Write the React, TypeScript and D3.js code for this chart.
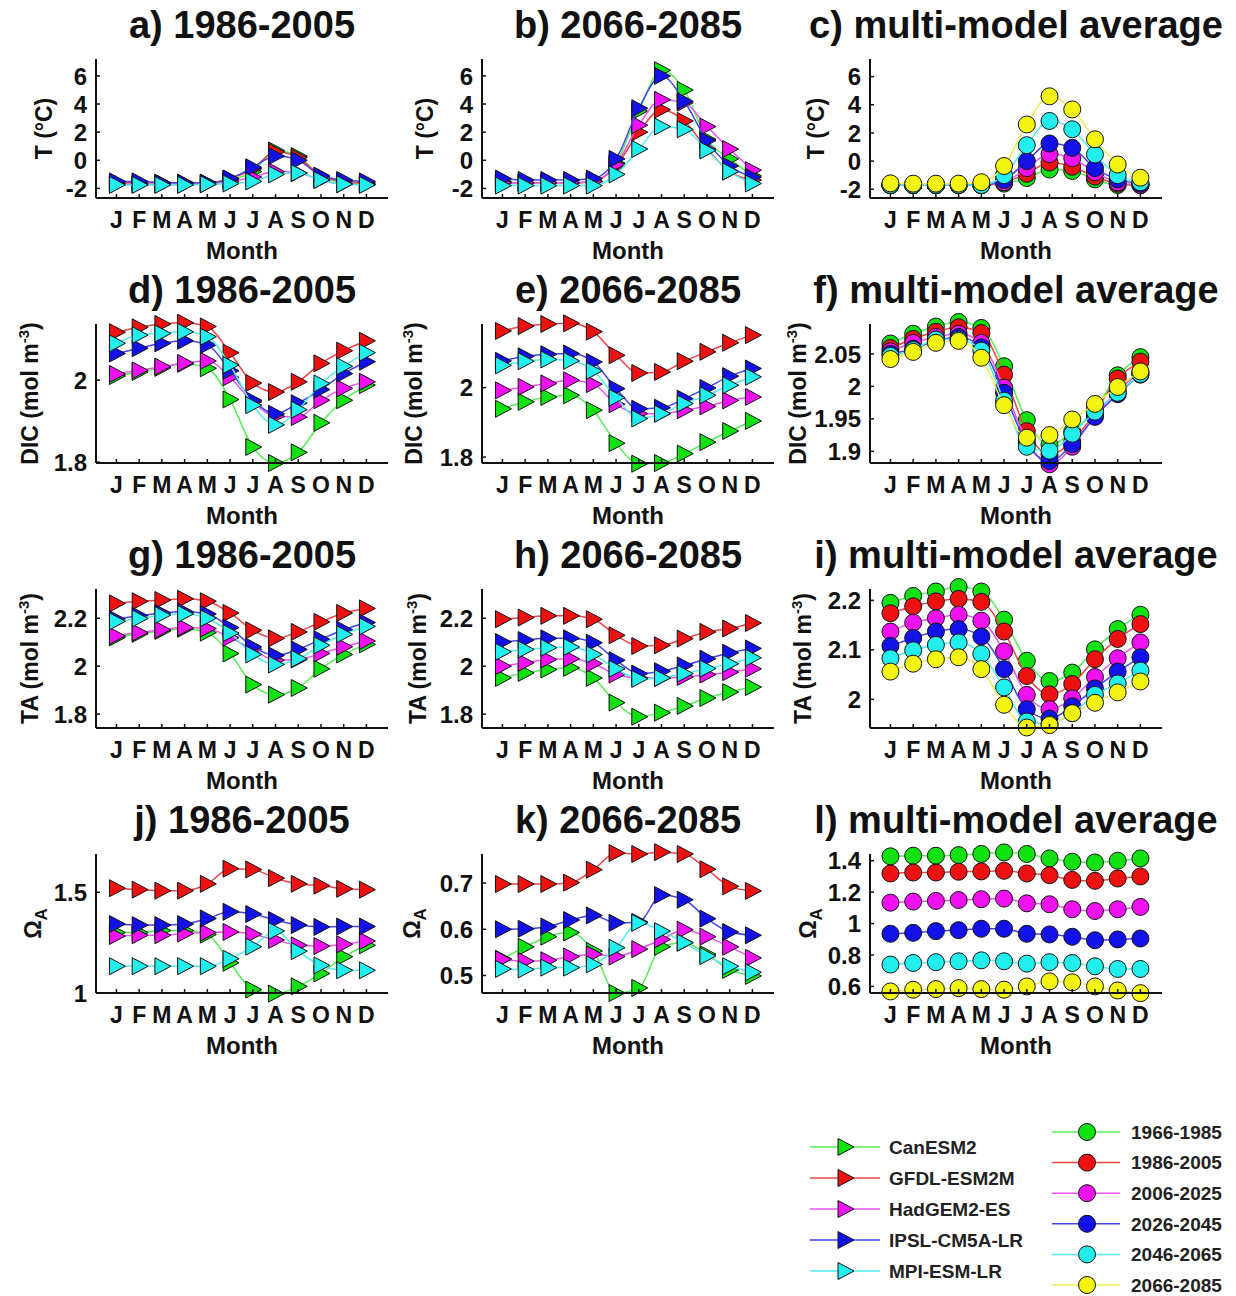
import React from "react";
import * as d3 from "d3";

const W = 1236;
const H = 1296;
const FONT = "'Liberation Sans', Arial, Helvetica, sans-serif";

const MONTHS = ["J", "F", "M", "A", "M", "J", "J", "A", "S", "O", "N", "D"];
const MODELS = ["CanESM2", "GFDL-ESM2M", "HadGEM2-ES", "IPSL-CM5A-LR", "MPI-ESM-LR"];
const PERIODS = ["1966-1985", "1986-2005", "2006-2025", "2026-2045", "2046-2065", "2066-2085"];

// ---- Temperature (°C) ----
const tHistCan = [-1.7, -1.7, -1.7, -1.7, -1.6, -1.4, -0.8, 0.7, 0.3, -1.2, -1.6, -1.7];
const tHistGfdl = [-1.6, -1.6, -1.6, -1.6, -1.6, -1.3, -0.6, 0.6, 0.2, -1.1, -1.5, -1.6];
const tHistHad = [-1.7, -1.7, -1.7, -1.7, -1.7, -1.5, -1.2, -0.8, -0.9, -1.4, -1.7, -1.7];
const tHistIpsl = [-1.5, -1.5, -1.6, -1.6, -1.6, -1.3, -0.5, 0.3, 0.0, -1.1, -1.4, -1.5];
const tHistMpi = [-1.75, -1.75, -1.75, -1.75, -1.7, -1.65, -1.5, -1.0, -0.9, -1.4, -1.7, -1.75];

const tFutCan = [-1.5, -1.6, -1.6, -1.6, -1.5, -0.2, 3.5, 6.4, 5.0, 1.5, 0.1, -1.1];
const tFutGfdl = [-1.6, -1.6, -1.6, -1.6, -1.5, -0.4, 2.0, 3.6, 2.8, 0.8, -0.8, -1.4];
const tFutHad = [-1.6, -1.6, -1.6, -1.6, -1.5, -0.3, 2.5, 4.3, 4.1, 2.4, 0.8, -0.7];
const tFutIpsl = [-1.3, -1.4, -1.4, -1.4, -1.3, 0.1, 3.7, 6.0, 4.2, 1.4, -0.4, -1.2];
const tFutMpi = [-1.8, -1.8, -1.8, -1.8, -1.8, -1.0, 0.8, 2.4, 2.2, 0.7, -0.8, -1.65];

const tAvg1966 = [-1.7, -1.7, -1.7, -1.7, -1.7, -1.6, -1.2, -0.6, -0.7, -1.3, -1.7, -1.7];
const tAvg1986 = [-1.7, -1.7, -1.7, -1.7, -1.7, -1.5, -0.9, -0.1, -0.4, -1.1, -1.6, -1.7];
const tAvg2006 = [-1.7, -1.7, -1.7, -1.7, -1.7, -1.5, -0.5, 0.5, 0.2, -0.8, -1.5, -1.7];
const tAvg2026 = [-1.7, -1.7, -1.7, -1.7, -1.7, -1.34, 0.0, 1.25, 0.94, -0.5, -1.3, -1.6];
const tAvg2046 = [-1.7, -1.7, -1.7, -1.7, -1.7, -1.0, 1.13, 2.85, 2.26, 0.47, -1.0, -1.5];
const tAvg2066 = [-1.58, -1.6, -1.6, -1.6, -1.5, -0.35, 2.6, 4.6, 3.67, 1.55, -0.24, -1.18];

// ---- DIC (mol m-3) ----
const dicHistCan = [2.01, 2.02, 2.03, 2.04, 2.029, 1.953, 1.837, 1.798, 1.824, 1.896, 1.951, 1.988];
const dicHistGfdl = [2.117, 2.129, 2.137, 2.14, 2.131, 2.067, 1.993, 1.971, 1.996, 2.041, 2.072, 2.096];
const dicHistHad = [2.015, 2.024, 2.033, 2.042, 2.047, 2.007, 1.947, 1.912, 1.91, 1.951, 1.98, 1.996];
const dicHistIpsl = [2.065, 2.078, 2.09, 2.096, 2.086, 2.023, 1.951, 1.918, 1.944, 1.977, 2.016, 2.045];
const dicHistMpi = [2.09, 2.11, 2.114, 2.118, 2.106, 2.037, 1.939, 1.891, 1.928, 1.992, 2.034, 2.067];

const dicFutCan = [1.939, 1.959, 1.973, 1.978, 1.935, 1.84, 1.781, 1.783, 1.81, 1.843, 1.875, 1.904];
const dicFutGfdl = [2.163, 2.177, 2.183, 2.185, 2.161, 2.093, 2.042, 2.045, 2.076, 2.103, 2.129, 2.151];
const dicFutHad = [1.992, 2.002, 2.012, 2.021, 2.01, 1.952, 1.925, 1.925, 1.935, 1.946, 1.963, 1.973];
const dicFutIpsl = [2.077, 2.09, 2.096, 2.098, 2.074, 1.997, 1.939, 1.942, 1.968, 1.999, 2.033, 2.055];
const dicFutMpi = [2.064, 2.076, 2.081, 2.077, 2.048, 1.971, 1.911, 1.925, 1.954, 1.978, 2.007, 2.031];

const dicAvg1966 = [2.066, 2.081, 2.092, 2.099, 2.09, 2.031, 1.948, 1.91, 1.93, 1.965, 2.017, 2.045];
const dicAvg1986 = [2.059, 2.073, 2.084, 2.091, 2.082, 2.018, 1.931, 1.895, 1.915, 1.96, 2.012, 2.038];
const dicAvg2006 = [2.054, 2.067, 2.076, 2.081, 2.067, 1.998, 1.917, 1.88, 1.907, 1.955, 1.993, 2.022];
const dicAvg2026 = [2.05, 2.058, 2.07, 2.076, 2.06, 1.99, 1.912, 1.885, 1.911, 1.953, 1.988, 2.018];
const dicAvg2046 = [2.047, 2.056, 2.072, 2.072, 2.055, 1.978, 1.907, 1.901, 1.927, 1.961, 1.99, 2.019];
const dicAvg2066 = [2.042, 2.053, 2.067, 2.07, 2.044, 1.971, 1.921, 1.925, 1.949, 1.973, 1.999, 2.023];

// ---- TA (mol m-3) ----
const taHistCan = [2.12, 2.135, 2.147, 2.156, 2.14, 2.053, 1.923, 1.881, 1.909, 1.989, 2.049, 2.091];
const taHistGfdl = [2.262, 2.271, 2.276, 2.281, 2.271, 2.222, 2.15, 2.116, 2.143, 2.185, 2.222, 2.241];
const taHistHad = [2.126, 2.14, 2.152, 2.161, 2.157, 2.119, 2.07, 2.025, 2.028, 2.053, 2.081, 2.105];
const taHistIpsl = [2.196, 2.21, 2.222, 2.227, 2.218, 2.161, 2.081, 2.045, 2.07, 2.112, 2.152, 2.182];
const taHistMpi = [2.187, 2.199, 2.213, 2.218, 2.2, 2.138, 2.049, 2.007, 2.031, 2.087, 2.133, 2.166];

const taFutCan = [1.951, 1.972, 1.986, 1.993, 1.951, 1.848, 1.789, 1.806, 1.834, 1.867, 1.892, 1.913];
const taFutGfdl = [2.196, 2.203, 2.21, 2.21, 2.196, 2.129, 2.084, 2.087, 2.115, 2.143, 2.157, 2.18];
const taFutHad = [2.0, 2.014, 2.028, 2.031, 2.011, 1.965, 1.951, 1.951, 1.955, 1.965, 1.975, 1.989];
const taFutIpsl = [2.101, 2.109, 2.116, 2.116, 2.098, 2.025, 1.969, 1.979, 2.003, 2.031, 2.056, 2.074];
const taFutMpi = [2.06, 2.07, 2.077, 2.08, 2.049, 1.989, 1.947, 1.951, 1.969, 1.99, 2.01, 2.035];

const taAvg1966 = [2.195, 2.209, 2.218, 2.227, 2.218, 2.161, 2.078, 2.037, 2.054, 2.101, 2.142, 2.171];
const taAvg1986 = [2.174, 2.188, 2.198, 2.203, 2.197, 2.137, 2.047, 2.01, 2.031, 2.081, 2.122, 2.152];
const taAvg2006 = [2.137, 2.155, 2.164, 2.171, 2.159, 2.097, 2.009, 1.98, 2.002, 2.045, 2.083, 2.115];
const taAvg2026 = [2.108, 2.124, 2.137, 2.142, 2.127, 2.061, 1.98, 1.961, 1.986, 2.022, 2.056, 2.085];
const taAvg2046 = [2.083, 2.099, 2.11, 2.115, 2.092, 2.024, 1.955, 1.95, 1.972, 2.009, 2.032, 2.058];
const taAvg2066 = [2.056, 2.072, 2.081, 2.085, 2.061, 1.989, 1.943, 1.948, 1.972, 1.993, 2.014, 2.036];

// ---- Omega aragonite ----
const omHistCan = [1.3, 1.3, 1.31, 1.31, 1.29, 1.15, 1.017, 0.997, 1.033, 1.097, 1.18, 1.237];
const omHistGfdl = [1.52, 1.513, 1.508, 1.508, 1.542, 1.617, 1.613, 1.57, 1.542, 1.533, 1.517, 1.513];
const omHistHad = [1.283, 1.287, 1.287, 1.295, 1.3, 1.303, 1.292, 1.263, 1.237, 1.233, 1.242, 1.258];
const omHistIpsl = [1.342, 1.337, 1.337, 1.342, 1.37, 1.403, 1.392, 1.362, 1.337, 1.328, 1.33, 1.33];
const omHistMpi = [1.133, 1.133, 1.133, 1.133, 1.133, 1.17, 1.23, 1.308, 1.208, 1.137, 1.113, 1.113];

const omFutCan = [0.536, 0.562, 0.584, 0.593, 0.553, 0.462, 0.473, 0.562, 0.571, 0.546, 0.512, 0.499];
const omFutGfdl = [0.698, 0.698, 0.698, 0.701, 0.729, 0.765, 0.763, 0.767, 0.763, 0.73, 0.693, 0.683];
const omFutHad = [0.535, 0.531, 0.533, 0.541, 0.546, 0.541, 0.557, 0.578, 0.599, 0.584, 0.562, 0.538];
const omFutIpsl = [0.6, 0.601, 0.606, 0.62, 0.63, 0.614, 0.616, 0.674, 0.664, 0.623, 0.594, 0.587];
const omFutMpi = [0.514, 0.513, 0.517, 0.517, 0.524, 0.56, 0.614, 0.596, 0.571, 0.542, 0.52, 0.507];

const omAvg1966 = [1.428, 1.432, 1.432, 1.436, 1.443, 1.453, 1.443, 1.415, 1.394, 1.389, 1.4, 1.415];
const omAvg1986 = [1.319, 1.325, 1.325, 1.33, 1.332, 1.336, 1.319, 1.308, 1.278, 1.272, 1.287, 1.3];
const omAvg2006 = [1.133, 1.14, 1.144, 1.15, 1.155, 1.159, 1.129, 1.123, 1.091, 1.08, 1.091, 1.106];
const omAvg2026 = [0.935, 0.941, 0.952, 0.958, 0.967, 0.967, 0.935, 0.931, 0.916, 0.894, 0.899, 0.905];
const omAvg2046 = [0.739, 0.749, 0.754, 0.76, 0.766, 0.76, 0.745, 0.754, 0.749, 0.728, 0.711, 0.711];
const omAvg2066 = [0.568, 0.579, 0.583, 0.589, 0.583, 0.579, 0.6, 0.632, 0.626, 0.6, 0.574, 0.557];

// ---- styling ----
const MARKER_FILL = ["#11e011", "#ee1111", "#f011f0", "#1111e8", "#22eeee", "#f4f411"];
const LINE_COL = ["#55ee55", "#ee4444", "#ee55ee", "#4444ee", "#55eeee", "#eeee55"];

const COL_LEFT = [96, 482, 870];
const ROW_BOTTOM = [198, 463, 728, 993];
const AX_W = 292;
const AX_H = 139;

type Panel = {
  title: string;
  row: number;
  col: number;
  ylab: "T" | "DIC" | "TA" | "OM";
  domain: [number, number];
  ticks: number[];
  series: number[][];
  marker: "tri" | "circ";
  labX: number;
};

const PANELS: Panel[] = [
  { title: "a) 1986-2005", row: 0, col: 0, ylab: "T", domain: [-2.68, 7.2], ticks: [-2, 0, 2, 4, 6], series: [tHistCan, tHistGfdl, tHistHad, tHistIpsl, tHistMpi], marker: "tri", labX: 44 },
  { title: "b) 2066-2085", row: 0, col: 1, ylab: "T", domain: [-2.68, 7.2], ticks: [-2, 0, 2, 4, 6], series: [tFutCan, tFutGfdl, tFutHad, tFutIpsl, tFutMpi], marker: "tri", labX: 425 },
  { title: "c) multi-model average", row: 0, col: 2, ylab: "T", domain: [-2.62, 7.25], ticks: [-2, 0, 2, 4, 6], series: [tAvg1966, tAvg1986, tAvg2006, tAvg2026, tAvg2046, tAvg2066], marker: "circ", labX: 816 },
  { title: "d) 1986-2005", row: 1, col: 0, ylab: "DIC", domain: [1.798, 2.137], ticks: [1.8, 2], series: [dicHistCan, dicHistGfdl, dicHistHad, dicHistIpsl, dicHistMpi], marker: "tri", labX: 30 },
  { title: "e) 2066-2085", row: 1, col: 1, ylab: "DIC", domain: [1.783, 2.183], ticks: [1.8, 2], series: [dicFutCan, dicFutGfdl, dicFutHad, dicFutIpsl, dicFutMpi], marker: "tri", labX: 414 },
  { title: "f) multi-model average", row: 1, col: 2, ylab: "DIC", domain: [1.882, 2.096], ticks: [1.9, 1.95, 2, 2.05], series: [dicAvg1966, dicAvg1986, dicAvg2006, dicAvg2026, dicAvg2046, dicAvg2066], marker: "circ", labX: 798 },
  { title: "g) 1986-2005", row: 2, col: 0, ylab: "TA", domain: [1.742, 2.322], ticks: [1.8, 2, 2.2], series: [taHistCan, taHistGfdl, taHistHad, taHistIpsl, taHistMpi], marker: "tri", labX: 30 },
  { title: "h) 2066-2085", row: 2, col: 1, ylab: "TA", domain: [1.742, 2.322], ticks: [1.8, 2, 2.2], series: [taFutCan, taFutGfdl, taFutHad, taFutIpsl, taFutMpi], marker: "tri", labX: 418 },
  { title: "i) multi-model average", row: 2, col: 2, ylab: "TA", domain: [1.942, 2.223], ticks: [2, 2.1, 2.2], series: [taAvg1966, taAvg1986, taAvg2006, taAvg2026, taAvg2046, taAvg2066], marker: "circ", labX: 803 },
  { title: "j) 1986-2005", row: 3, col: 0, ylab: "OM", domain: [1.0, 1.69], ticks: [1, 1.5], series: [omHistCan, omHistGfdl, omHistHad, omHistIpsl, omHistMpi], marker: "tri", labX: 33 },
  { title: "k) 2066-2085", row: 3, col: 1, ylab: "OM", domain: [0.462, 0.763], ticks: [0.5, 0.6, 0.7], series: [omFutCan, omFutGfdl, omFutHad, omFutIpsl, omFutMpi], marker: "tri", labX: 412 },
  { title: "l) multi-model average", row: 3, col: 2, ylab: "OM", domain: [0.558, 1.443], ticks: [0.6, 0.8, 1, 1.2, 1.4], series: [omAvg1966, omAvg1986, omAvg2006, omAvg2026, omAvg2046, omAvg2066], marker: "circ", labX: 808 },
];

const TRI = "M-7,-8.5 L-7,8.5 L9,0 Z";

const x = d3.scaleLinear().domain([0.1, 12.95]).range([0, AX_W]);

function Marker({ kind, cx, cy, fill }: { kind: string; cx: number; cy: number; fill: string }) {
  if (kind === "tri") {
    return <path d={TRI} transform={`translate(${cx},${cy})`} fill={fill} stroke="#111" strokeWidth={1} strokeLinejoin="round" />;
  }
  return <circle cx={cx} cy={cy} r={8.5} fill={fill} stroke="#111" strokeWidth={1} />;
}

function YLabel({ kind, cx, cy }: { kind: string; cx: number; cy: number }) {
  const common = {
    transform: `translate(${cx + 8},${cy}) rotate(-90)`,
    textAnchor: "middle" as const,
    fontFamily: FONT,
    fontWeight: 700,
    fontSize: 23,
    fill: "#111",
  };
  if (kind === "T") return <text {...common}>T (°C)</text>;
  if (kind === "OM")
    return (
      <text {...common}>
        Ω<tspan dy={6} fontSize={17}>A</tspan>
      </text>
    );
  const name = kind === "DIC" ? "DIC" : "TA";
  return (
    <text {...common}>
      {name} (mol m<tspan dy={-9} fontSize={15}>-3</tspan>
      <tspan dy={9}>)</tspan>
    </text>
  );
}

function PanelView({ p }: { p: Panel }) {
  const left = COL_LEFT[p.col];
  const bottom = ROW_BOTTOM[p.row];
  const top = bottom - AX_H;
  const y = d3.scaleLinear().domain(p.domain).range([AX_H, 0]);
  const line = d3
    .line<number>()
    .x((_, i) => x(i + 1))
    .y((d) => y(d))
    .curve(d3.curveMonotoneX);
  return (
    <g>
      <text x={left + AX_W / 2} y={top - 21} textAnchor="middle" fontFamily={FONT} fontWeight={700} fontSize={38} fill="#111">
        {p.title}
      </text>
      <YLabel kind={p.ylab} cx={p.labX} cy={top + AX_H / 2} />
      <g transform={`translate(${left},${top})`}>
        {p.series.map((s, si) => (
          <g key={si}>
            <path d={line(s) || ""} fill="none" stroke={LINE_COL[si]} strokeWidth={1.5} />
            {s.map((v, i) => (
              <Marker key={i} kind={p.marker} cx={x(i + 1)} cy={y(v)} fill={MARKER_FILL[si]} />
            ))}
          </g>
        ))}
        <line x1={0} y1={0} x2={0} y2={AX_H} stroke="#111" strokeWidth={2} />
        <line x1={0} y1={AX_H} x2={AX_W} y2={AX_H} stroke="#111" strokeWidth={2} />
        {p.ticks.map((t) => (
          <g key={t}>
            <line x1={0} x2={4} y1={y(t)} y2={y(t)} stroke="#111" strokeWidth={1.5} />
            <text x={-9} y={y(t)} dy="0.36em" textAnchor="end" fontFamily={FONT} fontWeight={700} fontSize={24} fill="#111">
              {String(t)}
            </text>
          </g>
        ))}
        {MONTHS.map((m, i) => (
          <g key={i}>
            <line x1={x(i + 1)} x2={x(i + 1)} y1={AX_H} y2={AX_H - 4} stroke="#111" strokeWidth={1.5} />
            <text x={x(i + 1)} y={AX_H + 30} textAnchor="middle" fontFamily={FONT} fontWeight={700} fontSize={23} fill="#111">
              {m}
            </text>
          </g>
        ))}
        <text x={AX_W / 2} y={AX_H + 61} textAnchor="middle" fontFamily={FONT} fontWeight={700} fontSize={24} fill="#111">
          Month
        </text>
      </g>
    </g>
  );
}

function Legend() {
  const leftX0 = 810;
  const leftX1 = 880;
  const leftY0 = 1147;
  const leftStep = 31;
  const rightX0 = 1052;
  const rightX1 = 1120;
  const rightY0 = 1132;
  const rightStep = 30.6;
  return (
    <g>
      {MODELS.map((m, i) => {
        const yy = leftY0 + i * leftStep;
        return (
          <g key={m}>
            <line x1={leftX0} x2={leftX1} y1={yy} y2={yy} stroke={LINE_COL[i]} strokeWidth={1.5} />
            <Marker kind="tri" cx={(leftX0 + leftX1) / 2} cy={yy} fill={MARKER_FILL[i]} />
            <text x={889} y={yy} dy="0.36em" fontFamily={FONT} fontWeight={700} fontSize={19} fill="#222">
              {m}
            </text>
          </g>
        );
      })}
      {PERIODS.map((p, i) => {
        const yy = rightY0 + i * rightStep;
        return (
          <g key={p}>
            <line x1={rightX0} x2={rightX1} y1={yy} y2={yy} stroke={LINE_COL[i]} strokeWidth={1.5} />
            <Marker kind="circ" cx={1087} cy={yy} fill={MARKER_FILL[i]} />
            <text x={1131} y={yy} dy="0.36em" fontFamily={FONT} fontWeight={700} fontSize={19} fill="#222">
              {p}
            </text>
          </g>
        );
      })}
    </g>
  );
}

export default function App() {
  return (
    <svg
      width={W}
      height={H}
      viewBox={`0 0 ${W} ${H}`}
      style={{ position: "absolute", left: 0, top: 0, background: "#fff" }}
    >
      <rect x={0} y={0} width={W} height={H} fill="#fff" />
      {PANELS.map((p) => (
        <PanelView key={p.title} p={p} />
      ))}
      <Legend />
    </svg>
  );
}
